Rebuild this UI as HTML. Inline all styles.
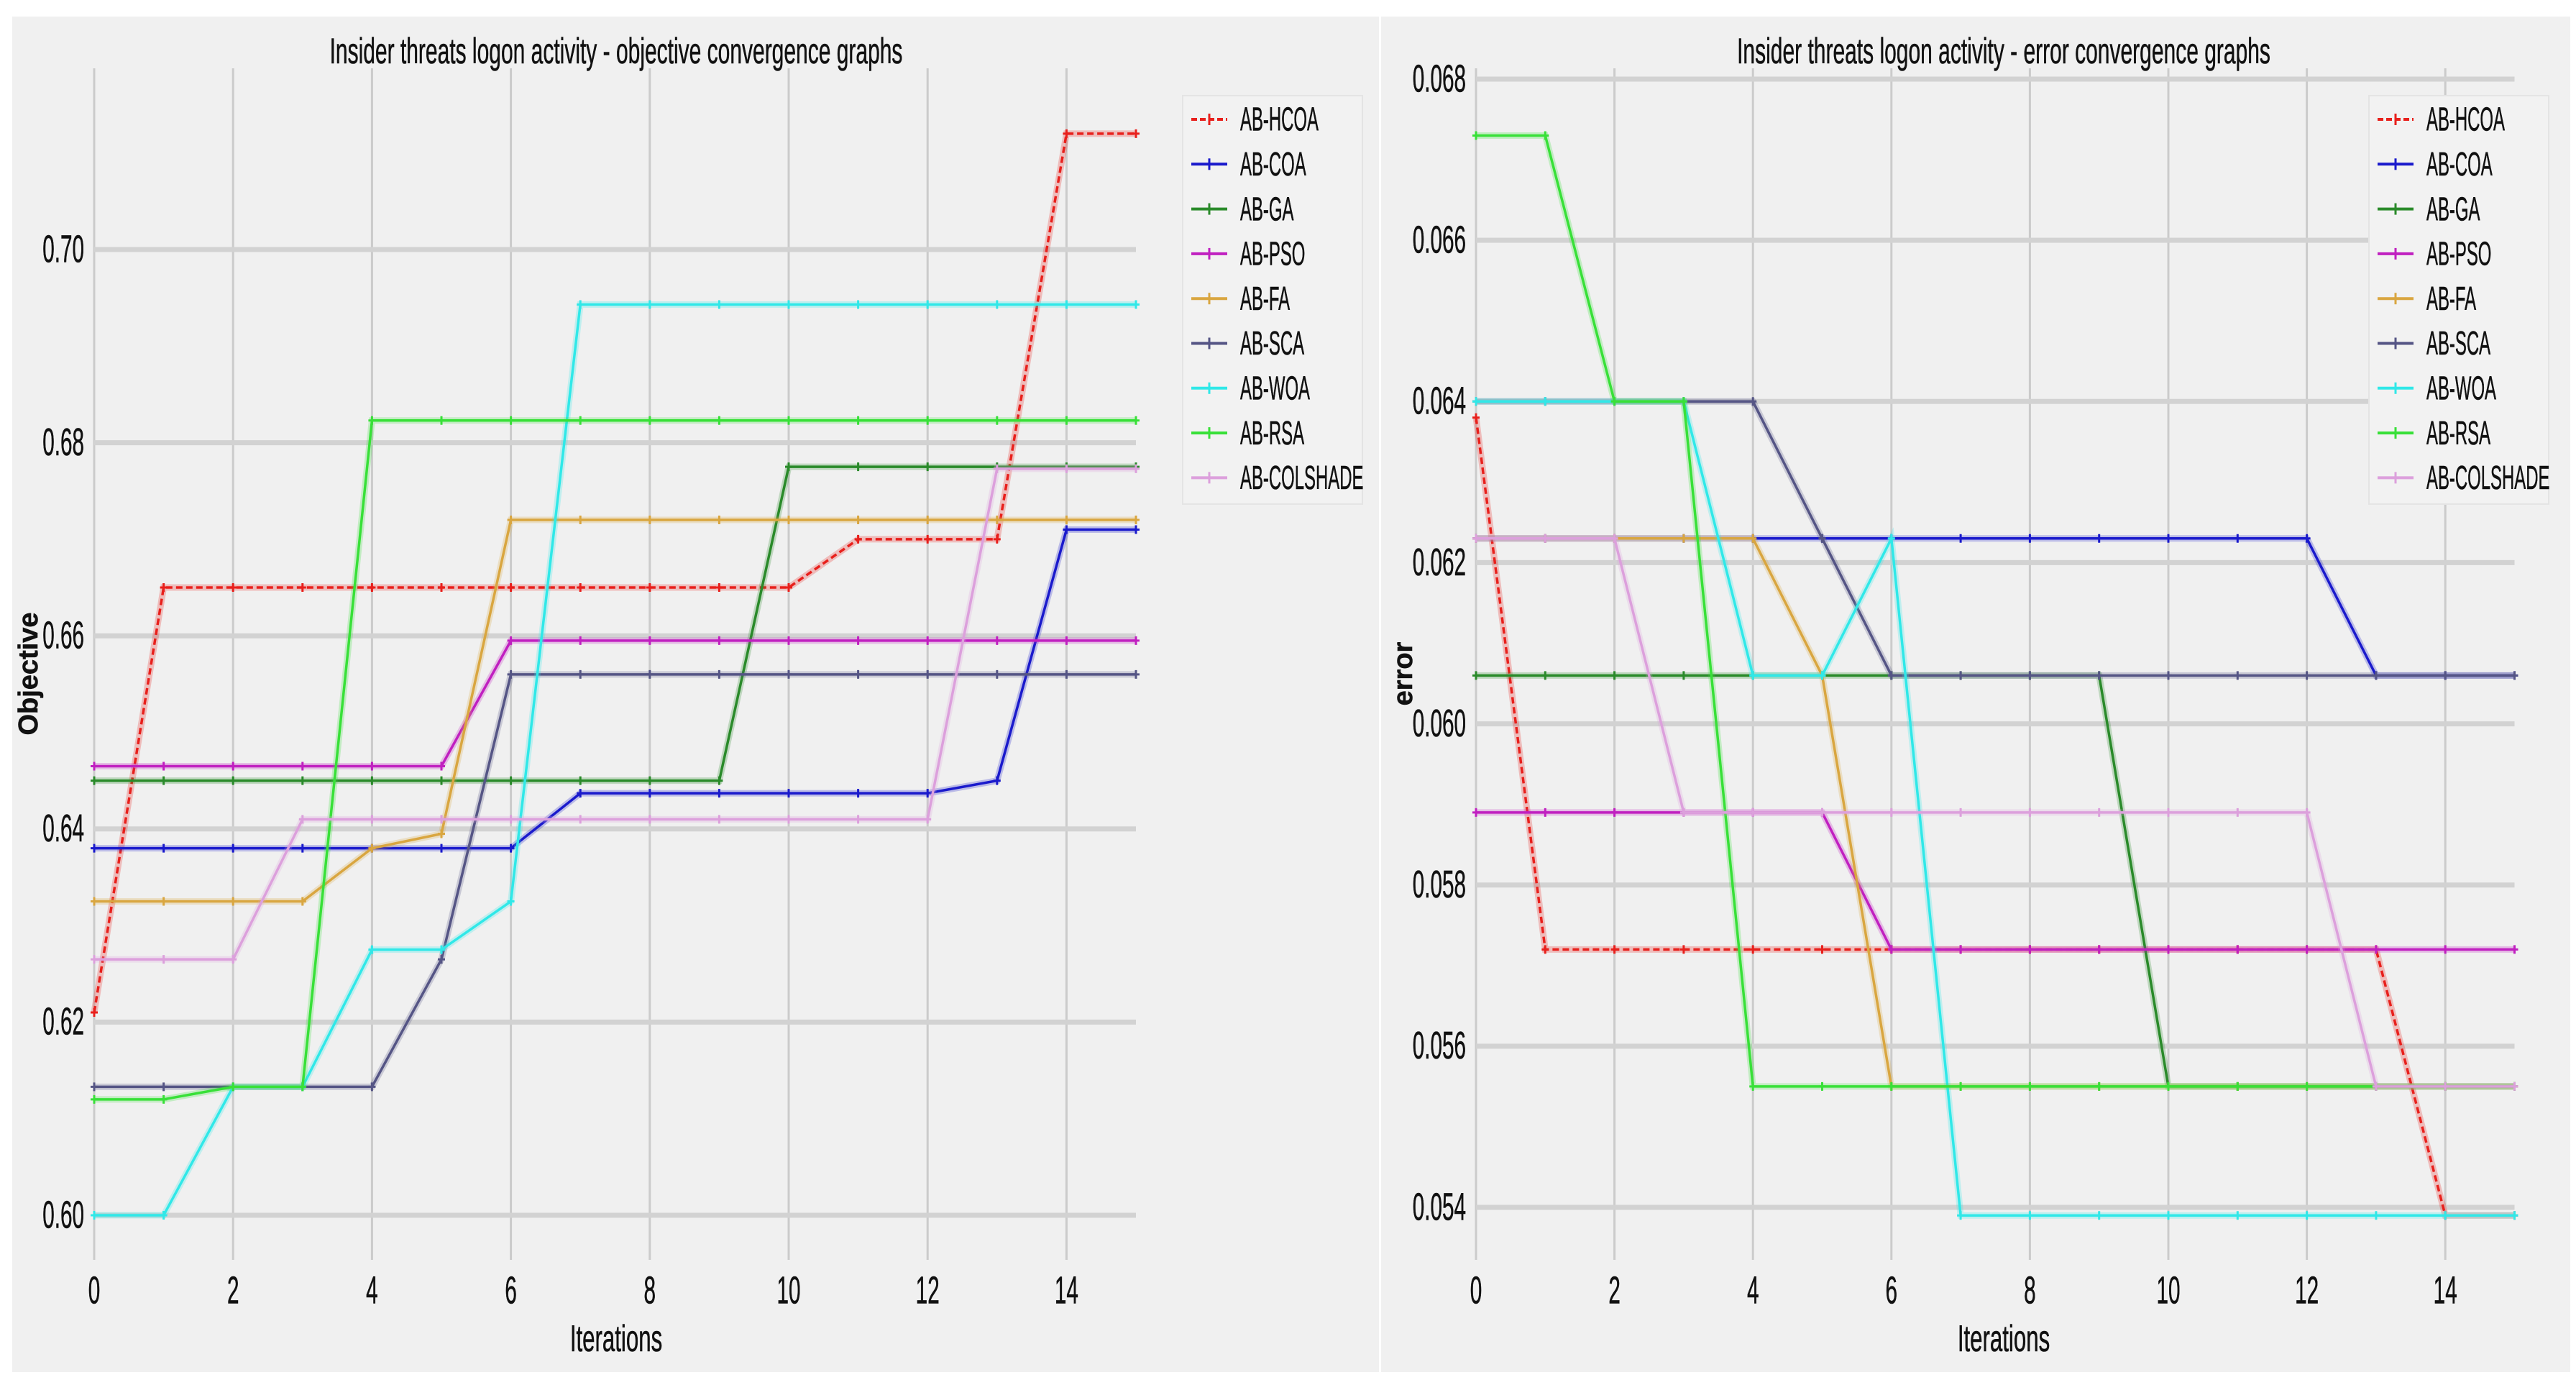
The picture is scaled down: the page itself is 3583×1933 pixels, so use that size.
<!DOCTYPE html>
<html><head><meta charset="utf-8">
<style>
html,body{margin:0;padding:0;background:#fff;}
svg{display:block;}
text{font-family:"Liberation Sans",sans-serif;fill:#111;stroke:#111;stroke-width:0.6;}
</style></head>
<body>
<svg id="root" width="3583" height="1933" viewBox="0 0 3583 1933" xmlns="http://www.w3.org/2000/svg">
<rect x="0" y="0" width="3583" height="1933" fill="#fff"/>
</svg>
<script>
// ---- shared ----
const iterations = [0,1,2,3,4,5,6,7,8,9,10,11,12,13,14,15];
const seriesNames = ["AB-HCOA","AB-COA","AB-GA","AB-PSO","AB-FA","AB-SCA","AB-WOA","AB-RSA","AB-COLSHADE"];
const seriesColors = ["#e8201c","#1a1acc","#2a8a2a","#c020c0","#d9a640","#555585","#30e8e8","#38e038","#dca0dc"];
const xTicks = [0,2,4,6,8,10,12,14];

// ---- objective chart ----
const objTicks = [0.60,0.62,0.64,0.66,0.68,0.70];
const objHCOA = [0.621,0.665,0.665,0.665,0.665,0.665,0.665,0.665,0.665,0.665,0.665,0.670,0.670,0.670,0.712,0.712];
const objCOA = [0.638,0.638,0.638,0.638,0.638,0.638,0.638,0.6437,0.6437,0.6437,0.6437,0.6437,0.6437,0.645,0.671,0.671];
const objGA = [0.645,0.645,0.645,0.645,0.645,0.645,0.645,0.645,0.645,0.645,0.6775,0.6775,0.6775,0.6775,0.6775,0.6775];
const objPSO = [0.6465,0.6465,0.6465,0.6465,0.6465,0.6465,0.6595,0.6595,0.6595,0.6595,0.6595,0.6595,0.6595,0.6595,0.6595,0.6595];
const objFA = [0.6325,0.6325,0.6325,0.6325,0.638,0.6395,0.672,0.672,0.672,0.672,0.672,0.672,0.672,0.672,0.672,0.672];
const objSCA = [0.6133,0.6133,0.6133,0.6133,0.6133,0.6265,0.656,0.656,0.656,0.656,0.656,0.656,0.656,0.656,0.656,0.656];
const objWOA = [0.600,0.600,0.6133,0.6133,0.6275,0.6275,0.6325,0.6943,0.6943,0.6943,0.6943,0.6943,0.6943,0.6943,0.6943,0.6943];
const objRSA = [0.612,0.612,0.6133,0.6133,0.6823,0.6823,0.6823,0.6823,0.6823,0.6823,0.6823,0.6823,0.6823,0.6823,0.6823,0.6823];
const objCOLSHADE = [0.6265,0.6265,0.6265,0.641,0.641,0.641,0.641,0.641,0.641,0.641,0.641,0.641,0.641,0.6773,0.6773,0.6773];

// ---- error chart ----
const errTicks = [0.054,0.056,0.058,0.060,0.062,0.064,0.066,0.068];
const errHCOA = [0.0638,0.0572,0.0572,0.0572,0.0572,0.0572,0.0572,0.0572,0.0572,0.0572,0.0572,0.0572,0.0572,0.0572,0.0539,0.0539];
const errCOA = [0.0623,0.0623,0.0623,0.0623,0.0623,0.0623,0.0623,0.0623,0.0623,0.0623,0.0623,0.0623,0.0623,0.0606,0.0606,0.0606];
const errGA = [0.0606,0.0606,0.0606,0.0606,0.0606,0.0606,0.0606,0.0606,0.0606,0.0606,0.0555,0.0555,0.0555,0.0555,0.0555,0.0555];
const errPSO = [0.0589,0.0589,0.0589,0.0589,0.0589,0.0589,0.0572,0.0572,0.0572,0.0572,0.0572,0.0572,0.0572,0.0572,0.0572,0.0572];
const errFA = [0.0623,0.0623,0.0623,0.0623,0.0623,0.0606,0.0555,0.0555,0.0555,0.0555,0.0555,0.0555,0.0555,0.0555,0.0555,0.0555];
const errSCA = [0.0640,0.0640,0.0640,0.0640,0.0640,0.0623,0.0606,0.0606,0.0606,0.0606,0.0606,0.0606,0.0606,0.0606,0.0606,0.0606];
const errWOA = [0.0640,0.0640,0.0640,0.0640,0.0606,0.0606,0.0623,0.0539,0.0539,0.0539,0.0539,0.0539,0.0539,0.0539,0.0539,0.0539];
const errRSA = [0.0673,0.0673,0.0640,0.0640,0.0555,0.0555,0.0555,0.0555,0.0555,0.0555,0.0555,0.0555,0.0555,0.0555,0.0555,0.0555];
const errCOLSHADE = [0.0623,0.0623,0.0623,0.0589,0.0589,0.0589,0.0589,0.0589,0.0589,0.0589,0.0589,0.0589,0.0589,0.0555,0.0555,0.0555];

const NS = "http://www.w3.org/2000/svg";
const root = document.getElementById("root");
function mk(tag, attrs, parent){
  const e = document.createElementNS(NS, tag);
  for (const k in attrs) e.setAttribute(k, attrs[k]);
  (parent||root).appendChild(e);
  return e;
}
function label(parent, x, y, str, size, anchor, sx, rot){
  const g = mk("g", {transform:`translate(${x},${y})` + (rot?` rotate(${rot})`:"") + ` scale(${sx},1)`}, parent);
  const t = mk("text", {x:0, y:0, "font-size":size, "text-anchor":anchor, "dominant-baseline":"central"}, g);
  t.textContent = str;
  return t;
}

function chart(cfg){
  const P = mk("g", {});
  
  
  const bg = mk("rect", {x:cfg.px, y:23, width:cfg.pw, height:1885, fill:"#f0f0f0"}, P);
  
  
  const xs = v => cfg.x0 + (v - 0) * cfg.xu;
  const ys = v => cfg.yA + (v - cfg.vA) * (cfg.yB - cfg.yA) / (cfg.vB - cfg.vA);
  const xEnd = xs(15);
  xTicks.forEach(t => {
    const l = mk("line", {x1:xs(t), x2:xs(t), y1:cfg.gridTop, y2:1752, stroke:"#cbcbcb", "stroke-width":3}, P);
    
    
    const tl = label(P, xs(t), 1795, String(t), 54, "middle", 0.55);
    
    
  });
  cfg.ticks.forEach(t => {
    const l = mk("line", {x1:cfg.x0, x2:xEnd, y1:ys(t), y2:ys(t), stroke:"#d2d2d2", "stroke-width":7}, P);
    
    
    const tl = label(P, cfg.x0 - 14, ys(t), t.toFixed(cfg.dec), 54, "end", 0.55);
    
    
  });
  cfg.series.forEach((arr, i) => {
    const pts = arr.map((v, k) => `${xs(iterations[k])},${ys(v)}`).join(" ");
    const halo = mk("polyline", {points:pts, fill:"none", stroke:seriesColors[i], "stroke-opacity":0.25, "stroke-width":9}, P);
    
    
    const pl = mk("polyline", {points:pts, fill:"none", stroke:seriesColors[i], "stroke-width":3.5, "stroke-dasharray": i===0 ? "9,5" : "none"}, P);
    
    
    arr.forEach((v, k) => {
      const x = xs(iterations[k]), y = ys(v);
      const m = mk("path", {d:`M${x-5},${y}H${x+5}M${x},${y-6}V${y+6}`, stroke:seriesColors[i], "stroke-width":3}, P);
      
      
    });
  });
  const ti = label(P, cfg.titleX, 71, cfg.title, 50, "middle", 0.6);
  
  
  const xl = label(P, cfg.titleX, 1862, "Iterations", 52, "middle", 0.6);
  
  
  const yl = label(P, cfg.ylX, 937, cfg.ylabel, 38, "middle", 1, -90);
  yl.setAttribute('font-weight', 'bold');
  
  
  const L = mk("g", {}, P);
  
  
  mk("rect", {x:cfg.lx, y:133, width:250, height:568, fill:"#f2f2f2", stroke:"#e4e4e4", "stroke-width":2}, L);
  seriesNames.forEach((n, i) => {
    const y = 166 + i * 62.3;
    const e = mk("g", {}, L);
    
    
    mk("line", {x1:cfg.lx+12, x2:cfg.lx+62, y1:y, y2:y, stroke:seriesColors[i], "stroke-width":4, "stroke-dasharray": i===0 ? "8,4" : "none"}, e);
    mk("path", {d:`M${cfg.lx+37},${y-8}V${y+8}`, stroke:seriesColors[i], "stroke-width":3}, e);
    label(e, cfg.lx+80, y, n, 46, "start", 0.52);
  });
}

chart({name:"objective-chart", px:17, pw:1901, x0:131, xu:96.6, gridTop:95,
  yA:1690, vA:0.60, yB:347, vB:0.70, ticks:objTicks, dec:2,
  series:[objHCOA,objCOA,objGA,objPSO,objFA,objSCA,objWOA,objRSA,objCOLSHADE],
  title:"Insider threats logon activity -  objective convergence graphs", titleX:857,
  ylabel:"Objective", ylX:40, lx:1645});

chart({name:"error-chart", px:1921, pw:1654, x0:2053, xu:96.3, gridTop:95,
  yA:1679, vA:0.054, yB:110, vB:0.068, ticks:errTicks, dec:3,
  series:[errHCOA,errCOA,errGA,errPSO,errFA,errSCA,errWOA,errRSA,errCOLSHADE],
  title:"Insider threats logon activity -  error convergence graphs", titleX:2787,
  ylabel:"error", ylX:1952, lx:3295});
</script>
</body></html>
